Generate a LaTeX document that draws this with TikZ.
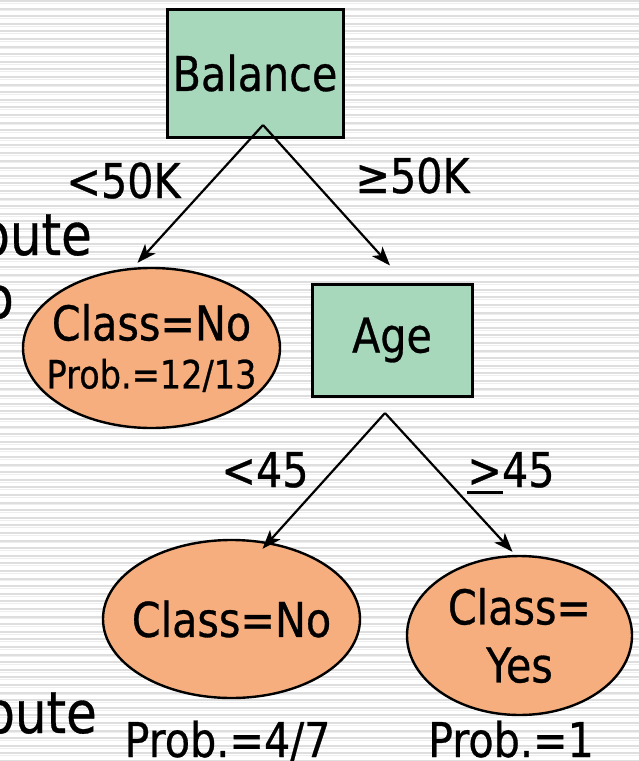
\documentclass[tikz,border=0pt]{standalone}
\usepackage{fontspec}
\setmainfont{DejaVu Sans}[FakeStretch=0.86,FakeBold=0.6]
\usetikzlibrary{arrows.meta,shapes.geometric}

\definecolor{splitgreen}{RGB}{168,216,188}
\definecolor{leaforange}{RGB}{246,174,126}
\definecolor{stripedark}{RGB}{222,222,222}
\definecolor{stripelight}{RGB}{238,238,238}

\newcommand\bigtext{\fontsize{48}{58}\selectfont}
\newcommand\smalltext{\fontsize{39}{44}\selectfont}
\newcommand\slidetext{\fontsize{58}{70}\selectfont}

\begin{document}
\begin{tikzpicture}[x=1pt,y=-1pt,
  splitbox/.style={draw=black, line width=3pt, fill=splitgreen, rectangle,
                   inner sep=0pt, font=\bigtext},
  leaf/.style={draw=black, line width=2.4pt, fill=leaforange, ellipse,
               inner xsep=-30pt, inner ysep=-10pt, align=center, font=\bigtext},
  branch/.style={line width=2.2pt, -{Stealth[length=19pt,width=14pt,inset=5pt]}},
  lbl/.style={font=\bigtext, inner sep=0pt, anchor=base},
  bodytext/.style={font=\slidetext, inner sep=0pt, anchor=base east}]

\useasboundingbox (0,0) rectangle (639,761);
\clip (0,0) rectangle (639,761);

% striped slide background
\fill[white] (0,0) rectangle (639,761);
\foreach \k in {0,...,100}{
  \draw[stripedark, line width=2pt] (0,{1+7.6*\k}) -- (639,{1+7.6*\k});
  \draw[stripelight, line width=1pt] (0,{3.3+7.6*\k}) -- (639,{3.3+7.6*\k});
}

% running text of the slide, cut at the left edge
\node[bodytext] (txtA) at (92,255) {attribute};
\node[bodytext] (txtB) at (14,318) {to};
\node[bodytext] (txtC) at (97,733) {attribute};

% tree nodes
\node[splitbox, minimum width=176pt, minimum height=128pt] (bal) at (255,73) {Balance};
\node[splitbox, minimum width=160pt, minimum height=112pt] (age) at (392,340) {Age};

\node[leaf, minimum width=257pt, minimum height=160pt] (c1) at (151.5,348)
  {Class=No\\[-10pt]{\smalltext Prob.=12/13}};
\node[leaf, minimum width=257pt, minimum height=158pt] (c2) at (231.5,619) {Class=No};
\node[leaf, minimum width=225pt, minimum height=159pt] (c3) at (519.5,635.5) {Class=\\Yes};

% split points
\coordinate (bsplit) at (263,125);
\coordinate (asplit) at (385,413);

% branches
\draw[branch] (bsplit) -- ([shift={(-14,-4)}]c1.north);
\draw[branch] (bsplit) -- ([shift={(-2,-17)}]age.north);
\draw[branch] (asplit) -- ([shift={(31,10)}]c2.north);
\draw[branch] (asplit) -- ([shift={(-7,-3)}]c3.north);

% branch labels
\node[lbl] (l1) at (123.5,198) {<50K};
\node[lbl] (l2) at (412.5,193) {≥50K};
\node[lbl] (l3) at (265,487) {<45};
\node[lbl] (l4) at (511,487) {\rlap{\rule[-6.5pt]{36pt}{3pt}}>45};

% leaf probabilities
\node[lbl] (p2) at (227.5,757) {Prob.=4/7};
\node[lbl] (p3) at (511,757) {Prob.=1};

\end{tikzpicture}
\end{document}
